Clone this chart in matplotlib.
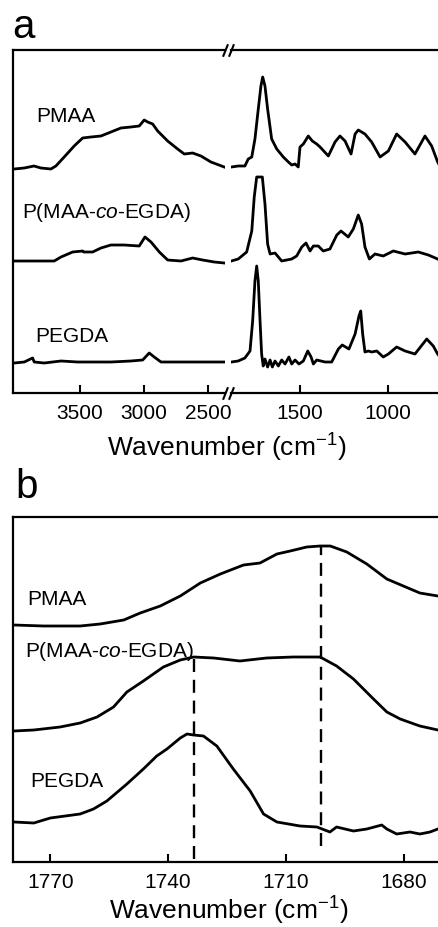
import matplotlib
matplotlib.use("Agg")
import matplotlib.pyplot as plt

plt.rcParams['font.family'] = ['Liberation Sans', 'DejaVu Sans']
plt.rcParams['mathtext.fontset'] = 'custom'
plt.rcParams['mathtext.rm'] = 'Liberation Sans'
plt.rcParams['mathtext.it'] = 'Liberation Sans:italic'
plt.rcParams['mathtext.default'] = 'regular'

# ---- (a) full FTIR spectra, stacked, broken axis ----
# high wavenumber side (4000 - 2350 cm-1)
wn_hi_pmaa = [4013, 3935, 3859, 3805, 3727, 3688, 3623, 3545, 3479, 3414, 3336, 3258, 3180,
              3102, 3037, 2998, 2971, 2932, 2893, 2815, 2737, 2685, 2620, 2555, 2477, 2373]
pmaa_hi = [2.24, 2.25, 2.27, 2.25, 2.24, 2.27, 2.36, 2.47, 2.55, 2.56, 2.57, 2.61, 2.65,
           2.66, 2.67, 2.73, 2.71, 2.69, 2.62, 2.52, 2.44, 2.39, 2.40, 2.37, 2.31, 2.26]

wn_hi_copo = [4013, 3883, 3701, 3648, 3557, 3479, 3471, 3401, 3336, 3258, 3154, 3037, 2992,
              2945, 2880, 2815, 2711, 2620, 2542, 2451, 2373]
copo_hi = [1.32, 1.32, 1.32, 1.36, 1.41, 1.42, 1.41, 1.41, 1.45, 1.48, 1.48, 1.47, 1.56,
           1.51, 1.41, 1.33, 1.32, 1.35, 1.33, 1.31, 1.30]

wn_hi_pegda = [4013, 3935, 3870, 3857, 3779, 3648, 3518, 3258, 3102, 3010, 2959, 2920, 2867,
               2737, 2529, 2373]
pegda_hi = [0.30, 0.31, 0.35, 0.31, 0.30, 0.32, 0.31, 0.31, 0.32, 0.33, 0.40, 0.36, 0.31,
            0.31, 0.31, 0.31]

# fingerprint side (1900 - 700 cm-1)
wn_lo_pmaa = [1890, 1851, 1813, 1794, 1774, 1756, 1737, 1722, 1712, 1699,
              1684, 1661, 1632, 1595, 1566, 1547, 1528, 1510, 1500, 1481,
              1453, 1430, 1405, 1386, 1339, 1301, 1273, 1244, 1210, 1187,
              1169, 1131, 1093, 1045, 998, 951, 903, 847, 790, 752, 718, 700]
pmaa_lo = [2.26, 2.27, 2.27, 2.34, 2.36, 2.54, 2.84, 3.07, 3.16, 3.07,
           2.84, 2.54, 2.44, 2.36, 2.31, 2.28, 2.29, 2.26, 2.46, 2.49,
           2.57, 2.52, 2.49, 2.46, 2.37, 2.51, 2.57, 2.52, 2.39, 2.59,
           2.63, 2.59, 2.51, 2.36, 2.42, 2.59, 2.51, 2.39, 2.57, 2.47, 2.31, 2.25]

wn_lo_copo = [1890, 1851, 1803, 1774, 1760, 1746, 1731, 1714, 1699, 1684,
              1670, 1642, 1604, 1547, 1519, 1490, 1466, 1443, 1424, 1396,
              1368, 1330, 1291, 1267, 1226, 1197, 1169, 1150, 1131, 1106,
              1074, 1027, 970, 903, 828, 771, 718, 700]
copo_lo = [1.32, 1.34, 1.41, 1.62, 1.96, 2.16, 2.16, 2.16, 1.89, 1.49,
           1.39, 1.40, 1.32, 1.34, 1.37, 1.46, 1.50, 1.42, 1.47, 1.47,
           1.42, 1.44, 1.58, 1.62, 1.56, 1.64, 1.78, 1.69, 1.46, 1.34,
           1.39, 1.37, 1.42, 1.39, 1.41, 1.38, 1.34, 1.32]

wn_lo_pegda = [1890, 1851, 1813, 1784, 1769, 1756, 1746, 1737, 1727, 1718,
               1709, 1699, 1684, 1670, 1657, 1642, 1623, 1604, 1585, 1563,
               1547, 1528, 1506, 1481, 1456, 1437, 1424, 1405, 1358, 1320,
               1282, 1260, 1222, 1187, 1165, 1155, 1144, 1131, 1112, 1093,
               1064, 1027, 998, 951, 903, 847, 780, 743, 718, 700]
pegda_lo = [0.31, 0.32, 0.35, 0.42, 0.72, 1.12, 1.27, 1.12, 0.72, 0.39,
            0.27, 0.34, 0.26, 0.33, 0.26, 0.32, 0.27, 0.33, 0.29, 0.36,
            0.29, 0.33, 0.29, 0.32, 0.42, 0.36, 0.29, 0.33, 0.31, 0.31,
            0.44, 0.48, 0.44, 0.59, 0.77, 0.82, 0.59, 0.41, 0.42, 0.41,
            0.42, 0.36, 0.39, 0.46, 0.42, 0.39, 0.54, 0.47, 0.39, 0.35]

ticks_hi = [3500, 3000, 2500]
ticks_lo = [1500, 1000]

# ---- (b) carbonyl region ----
wn_b_pmaa = [1779.3, 1771.7, 1762.4, 1757.3, 1751.3, 1747.1, 1742.0, 1736.9, 1731.8, 1726.7,
             1720.8, 1716.6, 1712.3, 1708.9, 1704.7, 1701.3, 1698.7, 1694.5, 1689.4, 1684.3,
             1680.1, 1675.9, 1671.3]
b_pmaa = [2.37, 2.36, 2.36, 2.38, 2.42, 2.49, 2.56, 2.66, 2.79, 2.88,
          2.97, 2.99, 3.08, 3.11, 3.15, 3.16, 3.16, 3.10, 2.98, 2.83,
          2.76, 2.69, 2.66]

wn_b_copo = [1779.3, 1774.2, 1767.5, 1762.4, 1758.1, 1753.9, 1750.5, 1746.3, 1741.2, 1736.9,
             1733.5, 1728.4, 1721.7, 1714.9, 1708.1, 1701.3, 1697.1, 1692.8, 1687.7, 1684.3,
             1680.9, 1675.9, 1671.3]
b_copo = [1.31, 1.32, 1.35, 1.39, 1.45, 1.55, 1.70, 1.81, 1.95, 2.02,
          2.05, 2.04, 2.01, 2.04, 2.05, 2.05, 1.96, 1.83, 1.63, 1.50,
          1.43, 1.36, 1.32]

wn_b_pegda = [1779.3, 1774.2, 1770.0, 1762.4, 1759.0, 1755.6, 1750.5, 1746.3, 1742.9, 1740.3,
              1736.9, 1735.2, 1733.5, 1731.0, 1727.6, 1723.4, 1719.1, 1715.7, 1712.3, 1706.4,
              1702.1, 1698.8, 1697.1, 1692.8, 1689.4, 1685.6, 1684.3, 1681.8, 1678.4, 1675.9,
              1673.3, 1671.3]
b_pegda = [0.40, 0.39, 0.44, 0.48, 0.53, 0.61, 0.78, 0.93, 1.06, 1.13,
           1.24, 1.28, 1.27, 1.26, 1.16, 0.93, 0.71, 0.48, 0.40, 0.36,
           0.35, 0.30, 0.35, 0.31, 0.33, 0.37, 0.33, 0.28, 0.30, 0.28,
           0.30, 0.33]

# C=O band positions marked with dashed lines
co_pos = [1733.5, 1701.0]
co_bottom = [0.03, 0.16]
co_top = [2.05, 3.16]
ticks_b = [1770, 1740, 1710, 1680]

names = ['PMAA', 'P(MAA-$\\mathit{co}$-EGDA)', 'PEGDA']

W, H = 438, 928
fig = plt.figure(figsize=(W / 100, H / 100), dpi=100)

lw = 2.0
ax1 = fig.add_axes([13 / W, 1 - 394 / H, 212 / W, 343 / H])
ax2 = fig.add_axes([231 / W, 1 - 394 / H, 210 / W, 343 / H])
axb = fig.add_axes([13 / W, 1 - 863 / H, 430 / W, 345 / H])

for x, y in [(wn_hi_pmaa, pmaa_hi), (wn_hi_copo, copo_hi), (wn_hi_pegda, pegda_hi)]:
    ax1.plot(x, y, color='k', lw=lw, solid_joinstyle='round')
for x, y in [(wn_lo_pmaa, pmaa_lo), (wn_lo_copo, copo_lo), (wn_lo_pegda, pegda_lo)]:
    ax2.plot(x, y, color='k', lw=lw, solid_joinstyle='round')
for x, y in [(wn_b_pmaa, b_pmaa), (wn_b_copo, b_copo), (wn_b_pegda, b_pegda)]:
    axb.plot(x, y, color='k', lw=lw, solid_joinstyle='round')

ax1.set_xlim(4023, 2367)
ax2.set_xlim(1892, 699)
axb.set_xlim(1779.5, 1670)
for ax in (ax1, ax2):
    ax.set_ylim(0, 3.43)
axb.set_ylim(0, 3.45)

ax1.set_xticks(ticks_hi)
ax2.set_xticks(ticks_lo)
axb.set_xticks(ticks_b)

for ax in (ax1, ax2, axb):
    ax.set_yticks([])
    ax.tick_params(axis='x', direction='in', length=6, width=1.5, labelsize=15, pad=7)
    for s in ax.spines.values():
        s.set_linewidth(1.6)
ax1.spines['right'].set_visible(False)
ax2.spines['left'].set_visible(False)
ax2.spines['right'].set_visible(False)
axb.spines['right'].set_visible(False)

# break marks
brk = dict(marker=[(-0.4, -1), (0.4, 1)], markersize=9, linestyle='none',
           color='k', mec='k', mew=1.5, clip_on=False)
ax1.plot([1, 1], [0, 1], transform=ax1.transAxes, **brk)
ax2.plot([0, 0], [0, 1], transform=ax2.transAxes, **brk)

for x, y0, y1 in zip(co_pos, co_bottom, co_top):
    axb.plot([x, x], [y0, y1], color='k', lw=1.7, linestyle=(0, (5.5, 3.3)))

fs = 15
ax1.text(0.112, 0.793, names[0], transform=ax1.transAxes, fontsize=fs)
ax1.text(0.041, 0.512, names[1], transform=ax1.transAxes, fontsize=fs)
ax1.text(0.104, 0.153, names[2], transform=ax1.transAxes, fontsize=fs)
axb.text(0.032, 0.748, names[0], transform=axb.transAxes, fontsize=fs)
axb.text(0.028, 0.598, names[1], transform=axb.transAxes, fontsize=fs)
axb.text(0.040, 0.219, names[2], transform=axb.transAxes, fontsize=fs)

xlab = 'Wavenumber (cm$^{-1}$)'
fig.text(0.517, 1 - 456.7 / H, xlab, ha='center', va='baseline', fontsize=19)
fig.text(0.523, 1 - 919.5 / H, xlab, ha='center', va='baseline', fontsize=19)

fig.text(12.7 / W, 1 - 38.3 / H, 'a', fontsize=29, va='baseline')
fig.text(15 / W, 1 - 498.3 / H, 'b', fontsize=29, va='baseline')

fig.savefig('out.png', dpi=100)
